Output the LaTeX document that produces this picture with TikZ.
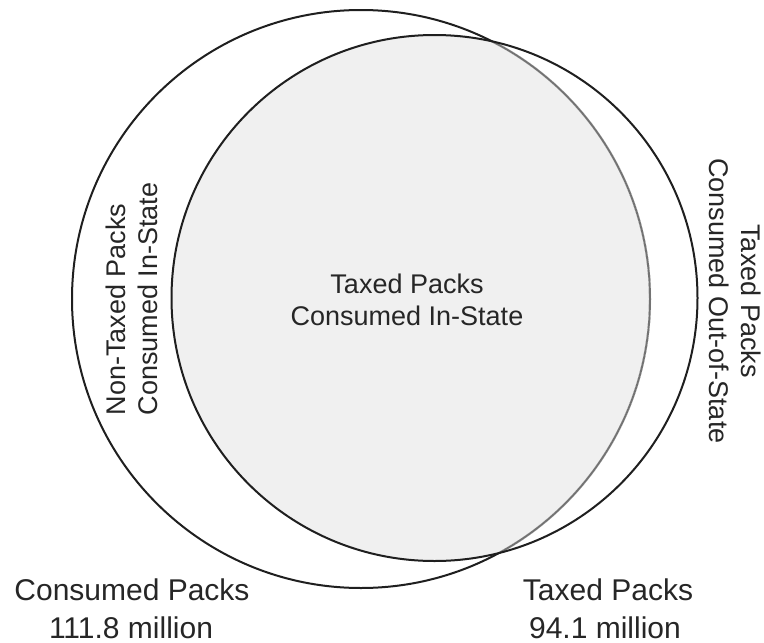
\documentclass[tikz,border=0pt]{standalone}
\usepackage{fontspec}
\setmainfont{Liberation Sans}
\begin{document}
\begin{tikzpicture}[x=1pt,y=-1pt,
  blackline/.style={line width=2pt, draw=black!88},
  grayline/.style={line width=1.9pt, draw=black!55},
  midtext/.style={inner sep=0pt, text=black!85, font=\fontsize{27}{32}\selectfont},
  bigtext/.style={inner sep=0pt, text=black!85, font=\fontsize{30}{37}\selectfont, anchor=base}]
\useasboundingbox (0,0) rectangle (764,643);
\coordinate (cc) at (361,299);   % Consumed Packs circle centre
\coordinate (tc) at (434.5,298); % Taxed Packs circle centre
% intersection shading
\begin{scope}
  \clip (cc) circle [radius=289pt];
  \fill[black!6] (tc) circle [radius=263pt];
\end{scope}
% consumed circle
\draw[blackline] (cc) circle [radius=289pt];
\begin{scope}
  \clip (tc) circle [radius=263pt];
  \draw[line width=2.6pt, draw=black!6] (cc) circle [radius=289pt];
  \draw[grayline] (cc) circle [radius=289pt];
\end{scope}
% taxed circle
\draw[blackline] (tc) circle [radius=263pt];
% labels
\node[midtext, align=center] (mid) at (407,300) {Taxed Packs\\Consumed In-State};
\node[midtext, align=left, rotate=90] (left) at (131.5,299) {Non-Taxed Packs\\Consumed In-State};
\node[midtext, align=center, rotate=-90] (right) at (735.5,301) {Taxed Packs\\Consumed Out-of-State};
\node[bigtext] (cons1) at (132,600) {Consumed Packs};
\node[bigtext] (cons2) at (131,638) {111.8 million};
\node[bigtext] (tax1) at (608,600) {Taxed Packs};
\node[bigtext] (tax2) at (605,638) {94.1 million};
\end{tikzpicture}
\end{document}
